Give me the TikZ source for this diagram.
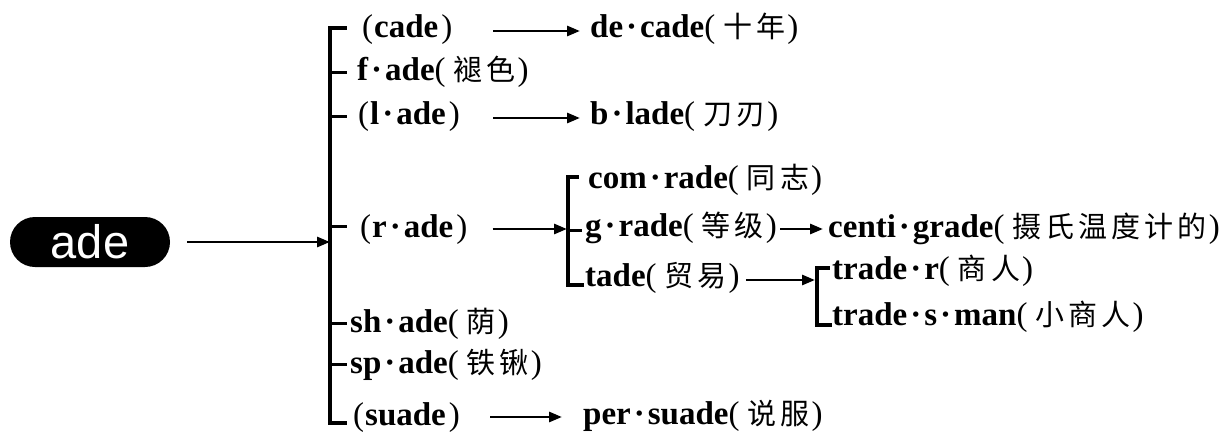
\documentclass[tikz,border=0pt]{standalone}
\usepackage{fontspec}
\usetikzlibrary{arrows.meta}
\setmainfont{Liberation Serif}
\newfontfamily\lat{Liberation Serif}[UprightFont=* Bold]
\newfontfamily\prn{Liberation Serif}
\newfontfamily\cjk{Noto Sans CJK SC}[LetterSpace=14]
\newfontfamily\pillfont{Liberation Sans}
\newcommand\dt{\hspace{3pt}·\hspace{3pt}}
\newcommand\zh[1]{{\prn(}\hspace{8pt}{\cjk\fontsize{29}{31}\selectfont #1}\hspace{2pt}{\prn)}}
\newcommand\pp[1]{{\prn(}\hspace{1pt}#1\hspace{3pt}{\prn)}}
\tikzset{
  t/.style={inner sep=0pt, anchor=base west, font={\lat\fontsize{33}{36}\selectfont}},
  arr/.style={line width=2.8pt, -{Triangle[length=13pt,width=10pt]}},
  brk/.style={line width=4pt, line cap=rect, line join=miter},
  tick/.style={line width=3pt},
  pill/.style={fill=black, rounded corners=25pt, minimum width=160pt, minimum height=50pt,
    inner sep=0pt, text=white, font={\pillfont\fontsize{47}{50}\selectfont}}
}
\begin{document}
\begin{tikzpicture}[x=1pt,y=-1pt]
\useasboundingbox (0,0) rectangle (1229,436);
% root
\node[pill] (ade) at (90,242) {ade};
% main bracket
\coordinate (mt) at (330,28);
\coordinate (mb) at (330,423);
% first level
\node[t] (cade) at (362,38) {\pp{cade}};
\node[t] (fade) at (357,81) {f\dt ade\zh{褪色}};
\node[t] (lade) at (358,124) {\pp{l\dt ade}};
\node[t] (rade) at (360,237) {\pp{r\dt ade}};
\node[t] (shade) at (350,332) {sh\dt ade\zh{荫}};
\node[t] (spade) at (350,373) {sp\dt ade\zh{铁锹}};
\node[t] (suade) at (353,425) {\pp{suade}};
% second level
\node[t] (decade) at (590,38) {de\dt cade\zh{十年}};
\node[t] (blade) at (590,124) {b\dt lade\zh{刀刃}};
\node[t] (persuade) at (583,424) {per\dt suade\zh{说服}};
\node[t] (comrade) at (588,188) {com\dt rade\zh{同志}};
\node[t] (grade) at (585,236) {g\dt rade\zh{等级}};
\node[t] (tade) at (585,286) {tade\zh{贸易}};
\node[t] (centi) at (828,237) {centi\dt grade\zh{摄氏温度计的}};
\node[t] (trader) at (832,279) {trade\dt r\zh{商人}};
\node[t] (tradesman) at (832,325) {trade\dt s\dt man\zh{小商人}};
% inner brackets
\coordinate (it) at (568,177);
\coordinate (ib) at (568,285);
\coordinate (st) at (817,268);
\coordinate (sb) at (817,325);
% root arrow
\draw[arr] ([xshift=17pt]ade.east) -- (ade.east -| mt);
% main bracket with ticks
\draw[brk] ([xshift=15pt]mt) -- (mt) -- (mb) -- ([xshift=15pt]mb);
\foreach \n/\s in {fade/8pt, lade/8pt, rade/11pt, shade/9pt, spade/9pt}{
  \path ([yshift=\s]\n.base west) coordinate (tk);
  \draw[tick] (tk -| mt) -- ++(17pt,0);
}
% arrows first level
\path ([yshift=7pt]decade.base west) coordinate (d1);
\path (d1 -| lade.east) coordinate (d0);
\draw[arr] ([xshift=33pt]d0) -- ([xshift=-10pt]d1);
\path ([yshift=6pt]blade.base west) coordinate (b1);
\path (b1 -| lade.east) coordinate (b0);
\draw[arr] ([xshift=33pt]b0) -- ([xshift=-10pt]b1);
\path ([yshift=8pt]rade.base east) coordinate (r1);
\path (r1 -| it) coordinate (r2);
\draw[arr] ([xshift=25pt]r1) -- ([xshift=-1pt]r2);
\path ([yshift=7pt]persuade.base west) coordinate (p1);
\path (p1 -| lade.east) coordinate (p0);
\draw[arr] ([xshift=30pt]p0) -- ([xshift=-21pt]p1);
% inner bracket
\draw[brk, line width=3.5pt] ([xshift=9pt]it) -- (it) -- (ib) -- ([xshift=14pt]ib);
\path ([yshift=6pt]grade.base west) coordinate (gk);
\draw[tick] (gk -| it) -- ++(14pt,0);
% g-rade arrow
\path ([yshift=7pt]grade.base east) coordinate (g1);
\path (g1 -| centi.west) coordinate (g2);
\draw[arr] ([xshift=3pt]g1) -- ([xshift=-5pt]g2);
% tade arrow
\path ([yshift=6pt]tade.base east) coordinate (ta1);
\path (ta1 -| st) coordinate (ta2);
\draw[arr] ([xshift=6pt]ta1) -- ([xshift=-2pt]ta2);
% second bracket
\draw[brk, line width=3.5pt] ([xshift=11pt]st) -- (st) -- (sb) -- ([xshift=13pt]sb);
\end{tikzpicture}
\end{document}
